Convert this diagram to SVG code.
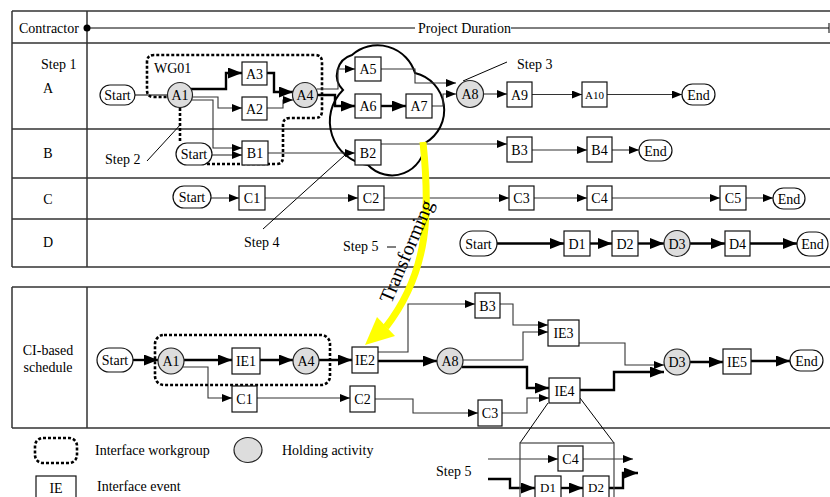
<svg xmlns="http://www.w3.org/2000/svg" width="830" height="497" viewBox="0 0 830 497">
<defs>
<style>
text{font-family:"Liberation Serif","Times New Roman",serif;font-size:14px;fill:#000}
.c{text-anchor:middle}
.frame{fill:none;stroke:#333;stroke-width:1.5}
.box{fill:#fff;stroke:#111;stroke-width:1.2}
.hold{fill:#ddd;stroke:#222;stroke-width:1.2}
.pill{fill:#fff;stroke:#111;stroke-width:1.2}
.t{fill:none;stroke:#333;stroke-width:1.1}
.tk{fill:none;stroke:#000;stroke-width:2.4}
.ld{fill:none;stroke:#000;stroke-width:1}
.wg{fill:none;stroke:#000;stroke-width:2.6;stroke-dasharray:3 2}
</style>
<marker id="a" markerUnits="userSpaceOnUse" markerWidth="10" markerHeight="8" refX="10" refY="4" orient="auto"><path d="M0,0 L10,4 L0,8 z" fill="#000"/></marker>
<marker id="ab" markerUnits="userSpaceOnUse" markerWidth="14" markerHeight="11" refX="14" refY="5.5" orient="auto"><path d="M0,0 L14,5.5 L0,11 z" fill="#000"/></marker>
</defs>
<rect width="830" height="497" fill="#fff"/>

<g id="table-top">
<path class="frame" d="M12,11 H830 M12,43 H830 M12,129 H830 M12,178 H830 M12,219 H830 M12,267 H830 M12,11 V267 M87,11 V267"/>
<text x="19" y="33">Contractor</text>
<circle cx="87" cy="28" r="3.5" fill="#000"/>
<path class="ld" d="M87,28 H415 M511,28 H829 M829,23 V33"/>
<text x="418" y="33">Project Duration</text>
<text x="41" y="69">Step 1</text>
<text class="c" x="48" y="93">A</text>
<text class="c" x="48" y="158">B</text>
<text class="c" x="48" y="204">C</text>
<text class="c" x="48" y="247">D</text>
</g>

<g id="table-bottom">
<path class="frame" d="M12,287 H830 M12,428 H830 M12,287 V428 M87,287 V428"/>
<text class="c" x="48" y="355">CI-based</text>
<text class="c" x="48" y="372">schedule</text>
</g>

<g id="annotations">
<text x="154" y="73">WG01</text>
<path class="wg" d="M207,164 H276 Q283,164 283,157 V125 Q283,118 290,118 H315 Q322,118 322,111 V62 Q322,55 315,55 H154 Q147,55 147,62 V90 Q147,97 154,97 H168 M180,108 V143"/>
<path d="M343,90 A21 21 0 0 1 352,55 A39 39 0 0 1 415,73 A38 38 0 0 1 425,143 A33 33 0 0 1 368,165 A44 44 0 0 1 343,90 Z" fill="none" stroke="#000" stroke-width="2"/>
<text x="105" y="164">Step 2</text>
<path class="ld" d="M147,161 L181,124"/>
<text x="517" y="69">Step 3</text>
<path class="ld" d="M463,81 L507,62"/>
<text x="244" y="247">Step 4</text>
<path class="ld" d="M263,229 L345,155"/>
<text x="343" y="251">Step 5</text>
<path class="ld" d="M387,247 H396"/>
</g>

<g id="connectors">
<path class="ld" d="M135,95 H168"/>
<path class="tk" marker-end="url(#ab)" d="M191,89 H226 V73 H242"/>
<path class="t" marker-end="url(#a)" d="M193,97 H218 V108 H242"/>
<path class="t" marker-end="url(#a)" d="M192,100 H213 V148 H242"/>
<path class="t" marker-end="url(#a)" d="M212,155 H242"/>
<path class="t" marker-end="url(#a)" d="M267,108 H283 V100 H293"/>
<path class="tk" marker-end="url(#ab)" d="M267,73 H274 V92 H293"/>
<path class="t" marker-end="url(#a)" d="M317,89 H338 V69 H355"/>
<path class="tk" marker-end="url(#ab)" d="M317,95 H335 V106 H355"/>
<path class="tk" marker-end="url(#ab)" d="M381,106 H406"/>
<path class="t" marker-end="url(#a)" d="M381,69 H415 V83 H456"/>
<path class="t" marker-end="url(#a)" d="M432,106 H443 V94 H456"/>
<path class="t" marker-end="url(#a)" d="M484,94 H507"/>
<path class="t" marker-end="url(#a)" d="M532,94.5 H582"/>
<path class="t" marker-end="url(#a)" d="M607,94.5 H682"/>
<path class="t" marker-end="url(#a)" d="M268,153 H355"/>
<path class="t" marker-end="url(#a)" d="M381,144 H507"/>
<path class="t" marker-end="url(#a)" d="M532,150 H587"/>
<path class="t" marker-end="url(#a)" d="M612,150 H639"/>
<path class="t" marker-end="url(#a)" d="M211,198 H239"/>
<path class="t" marker-end="url(#a)" d="M265,198 H358"/>
<path class="t" marker-end="url(#a)" d="M384,198 H509"/>
<path class="t" marker-end="url(#a)" d="M534,198 H587"/>
<path class="t" marker-end="url(#a)" d="M612,198 H720"/>
<path class="t" marker-end="url(#a)" d="M746,198 H773"/>
<path class="tk" marker-end="url(#ab)" d="M497,243.5 H564"/>
<path class="tk" marker-end="url(#ab)" d="M590,243.5 H612"/>
<path class="tk" marker-end="url(#ab)" d="M638,243.5 H664"/>
<path class="tk" marker-end="url(#ab)" d="M690,243.5 H725"/>
<path class="tk" marker-end="url(#ab)" d="M750,243.5 H797"/>

<path class="tk" marker-end="url(#ab)" d="M133,360 H158"/>
<path class="tk" marker-end="url(#ab)" d="M184,360 H232"/>
<path class="tk" marker-end="url(#ab)" d="M260,360 H293"/>
<path class="tk" marker-end="url(#ab)" d="M319,360 H352"/>
<path class="t" marker-end="url(#a)" d="M183,367 H208 V398 H232"/>
<path class="t" marker-end="url(#a)" d="M257,398 H350"/>
<path class="t" marker-end="url(#a)" d="M375,399 H413 V413 H478"/>
<path class="t" marker-end="url(#a)" d="M378,352 H408 V304 H475"/>
<path class="tk" marker-end="url(#ab)" d="M378,361 H437"/>
<path class="t" marker-end="url(#a)" d="M463,360 H523 V332 H548"/>
<path class="t" marker-end="url(#a)" d="M500,304 H513 V325 H548"/>
<path class="tk" marker-end="url(#ab)" d="M462,367 H527 V388 H549"/>
<path class="t" marker-end="url(#a)" d="M502,413 H527 V398 H549"/>
<path class="t" marker-end="url(#a)" d="M579,343 H625 V365 H664"/>
<path class="tk" marker-end="url(#ab)" d="M580,390 H614 V372 H664"/>
<path class="tk" marker-end="url(#ab)" d="M690,362 H723"/>
<path class="tk" marker-end="url(#ab)" d="M751,361 H790"/>
<path class="ld" d="M548,403 L520,443 M580,398 L614,443"/>
<path class="t" marker-end="url(#a)" d="M488,459 H558"/>
<path class="t" marker-end="url(#a)" d="M583,459 H633"/>
<path class="tk" marker-end="url(#ab)" d="M488,479 H510 V488 H535"/>
<path class="tk" marker-end="url(#ab)" d="M561,488 H583"/>
<path class="tk" marker-end="url(#ab)" d="M609,488 H623 V473 H638"/>
</g>

<g id="transforming">
<path d="M423,142 C430,210 430,270 386,327" fill="none" stroke="#ff0" stroke-width="7"/>
<path d="M365,345 L377,317 L395,336 Z" fill="#ff0"/>
<text class="c" transform="translate(408,252) rotate(-67)" y="5" style="font-size:20px">Transforming</text>
</g>

<g id="startA"><rect class="pill" x="100" y="85" width="35" height="20" rx="10"/><text class="c" x="117.5" y="100">Start</text></g>
<g id="A1"><circle class="hold" cx="180" cy="95" r="12.5"/><text class="c" x="180" y="100">A1</text></g>
<g id="A3"><rect class="box" x="242" y="62" width="25" height="23"/><text class="c" x="254.5" y="78.5">A3</text></g>
<g id="A2"><rect class="box" x="242" y="97" width="25" height="23"/><text class="c" x="254.5" y="113.5">A2</text></g>
<g id="A4"><circle class="hold" cx="305" cy="95" r="12.5"/><text class="c" x="305" y="100">A4</text></g>
<g id="A5"><rect class="box" x="355" y="57" width="26" height="24"/><text class="c" x="368" y="74">A5</text></g>
<g id="A6"><rect class="box" x="355" y="94" width="26" height="24"/><text class="c" x="368" y="111">A6</text></g>
<g id="A7"><rect class="box" x="406" y="94" width="26" height="24"/><text class="c" x="419" y="111">A7</text></g>
<g id="A8"><circle class="hold" cx="470" cy="94" r="13.5"/><text class="c" x="470" y="99">A8</text></g>
<g id="A9"><rect class="box" x="507" y="82" width="25" height="25"/><text class="c" x="519.5" y="99.5">A9</text></g>
<g id="A10"><rect class="box" x="582" y="82" width="25" height="25"/><text class="c" x="594.5" y="98.5" style="font-size:11px">A10</text></g>
<g id="endA"><rect class="pill" x="682" y="84" width="33" height="21" rx="10.5"/><text class="c" x="698.5" y="99.5">End</text></g>

<g id="startB"><rect class="pill" x="176" y="143" width="36" height="22" rx="11"/><text class="c" x="194" y="159">Start</text></g>
<g id="B1"><rect class="box" x="242" y="141" width="26" height="24"/><text class="c" x="255" y="158">B1</text></g>
<g id="B2"><rect class="box" x="355" y="140" width="26" height="25"/><text class="c" x="368" y="157.5">B2</text></g>
<g id="B3"><rect class="box" x="507" y="137" width="25" height="25"/><text class="c" x="519.5" y="154.5">B3</text></g>
<g id="B4"><rect class="box" x="587" y="137" width="25" height="25"/><text class="c" x="599.5" y="154.5">B4</text></g>
<g id="endB"><rect class="pill" x="639" y="140" width="33" height="21" rx="10.5"/><text class="c" x="655.5" y="155.5">End</text></g>

<g id="startC"><rect class="pill" x="173" y="186" width="38" height="22" rx="11"/><text class="c" x="192" y="202">Start</text></g>
<g id="C1"><rect class="box" x="239" y="186" width="26" height="24"/><text class="c" x="252" y="203">C1</text></g>
<g id="C2"><rect class="box" x="358" y="186" width="26" height="24"/><text class="c" x="371" y="203">C2</text></g>
<g id="C3"><rect class="box" x="509" y="186" width="25" height="24"/><text class="c" x="521.5" y="203">C3</text></g>
<g id="C4"><rect class="box" x="587" y="186" width="25" height="24"/><text class="c" x="599.5" y="203">C4</text></g>
<g id="C5"><rect class="box" x="720" y="186" width="26" height="24"/><text class="c" x="733" y="203">C5</text></g>
<g id="endC"><rect class="pill" x="773" y="188" width="32" height="21" rx="10.5"/><text class="c" x="789" y="203.5">End</text></g>

<g id="startD"><rect class="pill" x="460" y="231" width="37" height="25" rx="12.5"/><text class="c" x="478.5" y="248.5">Start</text></g>
<g id="D1"><rect class="box" x="564" y="231" width="26" height="25"/><text class="c" x="577" y="248.5">D1</text></g>
<g id="D2"><rect class="box" x="612" y="231" width="26" height="25"/><text class="c" x="625" y="248.5">D2</text></g>
<g id="D3"><circle class="hold" cx="677" cy="243.5" r="13"/><text class="c" x="677" y="248.5">D3</text></g>
<g id="D4"><rect class="box" x="725" y="231" width="25" height="25"/><text class="c" x="737.5" y="248.5">D4</text></g>
<g id="endD"><rect class="pill" x="797" y="232" width="31" height="24" rx="12"/><text class="c" x="812.5" y="249">End</text></g>

<g id="wg-bottom"><rect class="wg" x="155" y="335" width="175" height="50" rx="9"/></g>
<g id="ci-start"><rect class="pill" x="97" y="348" width="36" height="24" rx="12"/><text class="c" x="115" y="365">Start</text></g>
<g id="ci-A1"><circle class="hold" cx="171" cy="361" r="13"/><text class="c" x="171" y="366">A1</text></g>
<g id="ci-IE1"><rect class="box" x="232" y="348" width="28" height="26"/><text class="c" x="246" y="366">IE1</text></g>
<g id="ci-A4"><circle class="hold" cx="306" cy="361" r="13"/><text class="c" x="306" y="366">A4</text></g>
<g id="ci-IE2"><rect class="box" x="352" y="347" width="26" height="26"/><text class="c" x="365" y="365">IE2</text></g>
<g id="ci-A8"><circle class="hold" cx="450" cy="361" r="13"/><text class="c" x="450" y="366">A8</text></g>
<g id="ci-B3"><rect class="box" x="475" y="293" width="25" height="25"/><text class="c" x="487.5" y="310.5">B3</text></g>
<g id="ci-IE3"><rect class="box" x="548" y="320" width="31" height="26"/><text class="c" x="563.5" y="338">IE3</text></g>
<g id="ci-IE4"><rect class="box" x="549" y="378" width="31" height="25"/><text class="c" x="564.5" y="395.5">IE4</text></g>
<g id="ci-C1"><rect class="box" x="232" y="386" width="25" height="26"/><text class="c" x="244.5" y="404">C1</text></g>
<g id="ci-C2"><rect class="box" x="350" y="386" width="25" height="26"/><text class="c" x="362.5" y="404">C2</text></g>
<g id="ci-C3"><rect class="box" x="478" y="400" width="24" height="26"/><text class="c" x="490" y="418">C3</text></g>
<g id="ci-D3"><circle class="hold" cx="677" cy="362" r="13"/><text class="c" x="677" y="367">D3</text></g>
<g id="ci-IE5"><rect class="box" x="723" y="349" width="28" height="25"/><text class="c" x="737" y="366.5">IE5</text></g>
<g id="ci-end"><rect class="pill" x="790" y="350" width="33" height="21" rx="10.5"/><text class="c" x="806.5" y="365.5">End</text></g>

<g id="detail">
<rect x="520" y="443" width="94" height="70" fill="none" stroke="#444" stroke-width="1.2"/>
<text x="436" y="476">Step 5</text>
</g>
<g id="d-C4"><rect class="box" x="558" y="446" width="25" height="25"/><text class="c" x="570.5" y="463.5">C4</text></g>
<g id="d-D1"><rect class="box" x="535" y="476" width="26" height="26"/><text class="c" x="548" y="492" style="font-size:13px">D1</text></g>
<g id="d-D2"><rect class="box" x="583" y="476" width="26" height="26"/><text class="c" x="596" y="492" style="font-size:13px">D2</text></g>

<g id="legend">
<rect class="wg" x="35" y="438" width="42" height="25" rx="8"/>
<text x="95" y="455">Interface workgroup</text>
<ellipse class="hold" cx="248" cy="450" rx="14" ry="12.5"/>
<text x="282" y="455">Holding activity</text>
<rect class="box" x="36" y="476" width="40" height="26"/>
<text class="c" x="56" y="493">IE</text>
<text x="97" y="491">Interface event</text>
</g>
</svg>
